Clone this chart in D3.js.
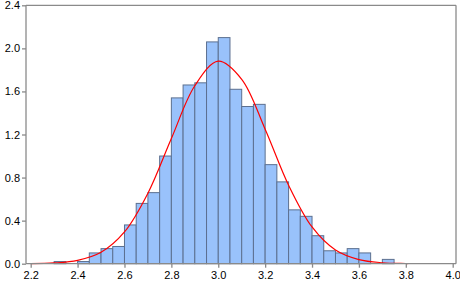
<!DOCTYPE html>
<html><head><meta charset="utf-8">
<script src="https://cdn.jsdelivr.net/npm/d3@7"></script>
<style>body{margin:0;background:#fff}svg{display:block}text{font-family:"Liberation Sans",Arial,sans-serif;font-size:11px;fill:#000}</style>
</head><body><svg id="c" width="460" height="281"></svg>
<script>
const binStarts = [2.30,2.35,2.40,2.45,2.50,2.55,2.60,2.65,2.70,2.75,2.80,2.85,2.90,2.95,3.00,3.05,3.10,3.15,3.20,3.25,3.30,3.35,3.40,3.45,3.50,3.55,3.60,3.65,3.70];
const density   = [0.02,0.00,0.02,0.10,0.14,0.16,0.36,0.56,0.66,1.00,1.54,1.66,1.68,2.06,2.10,1.62,1.46,1.48,0.92,0.76,0.50,0.44,0.26,0.12,0.10,0.14,0.10,0.00,0.04];
const binWidth = 0.05;
const curveX = [2.2,2.3,2.4,2.5,2.6,2.7,2.8,2.9,3.0,3.1,3.2,3.3,3.4,3.5,3.6,3.7,3.8,3.81];
const curveY = [0.001,0.007,0.031,0.106,0.295,0.655,1.163,1.653,1.881,1.713,1.249,0.729,0.341,0.127,0.038,0.009,0.002,0.001];
const xTicks = [2.2,2.4,2.6,2.8,3.0,3.2,3.4,3.6,3.8,4.0];
const yTicks = [0.0,0.4,0.8,1.2,1.6,2.0,2.4];

const svg = d3.select("#c");
const x = d3.scaleLinear().domain([2.2,4.0]).range([30.7,452.7]);
const y = d3.scaleLinear().domain([0,2.4]).range([263.7,5.3]);
const L = 26, R = 456, T = y(2.4), B = y(0);

// bars
svg.append("g").selectAll("rect").data(binStarts.map((s,i)=>({s,v:density[i]})).filter(d=>d.v>0))
  .join("rect")
  .attr("x", d=>x(d.s)).attr("width", d=>x(d.s+binWidth)-x(d.s))
  .attr("y", d=>y(d.v)).attr("height", d=>y(0)-y(d.v))
  .attr("fill","#99c2fb").attr("stroke","#5c7090").attr("stroke-width",1);

// curve
const line = d3.line().x((d,i)=>x(curveX[i])).y(d=>y(d)).curve(d3.curveCatmullRom);
svg.append("path").attr("d", line(curveY)).attr("fill","none").attr("stroke","#ff0000").attr("stroke-width",1.2);

// frame
const frame = svg.append("g").attr("stroke","#8a8a8a").attr("stroke-width",1.3).attr("fill","none");
frame.append("line").attr("x1",L).attr("x2",R).attr("y1",T).attr("y2",T);
frame.append("line").attr("x1",R).attr("x2",R).attr("y1",T).attr("y2",B);

// axes
const xa = svg.append("g").attr("transform",`translate(0,${B})`)
  .call(d3.axisBottom(x).tickValues(xTicks).tickFormat(d3.format(".1f")).tickSize(4).tickSizeOuter(0));
xa.select(".domain").attr("d",`M${L},0H${R}`);
const ya = svg.append("g").attr("transform",`translate(${L},0)`)
  .call(d3.axisLeft(y).tickValues(yTicks).tickFormat(d3.format(".1f")).tickSize(4).tickSizeOuter(0));
ya.select(".domain").attr("d",`M0,${T}V${B}`);
svg.selectAll(".domain, .tick line").attr("stroke","#8a8a8a").attr("stroke-width",1.3);
xa.selectAll("text").attr("dy","0.9em").attr("y",5);
ya.selectAll("text").attr("x",-6);
svg.selectAll(".tick text").style("font-family",'"Liberation Sans",Arial,sans-serif').style("font-size","11px").attr("fill","#000");
</script></body></html>
